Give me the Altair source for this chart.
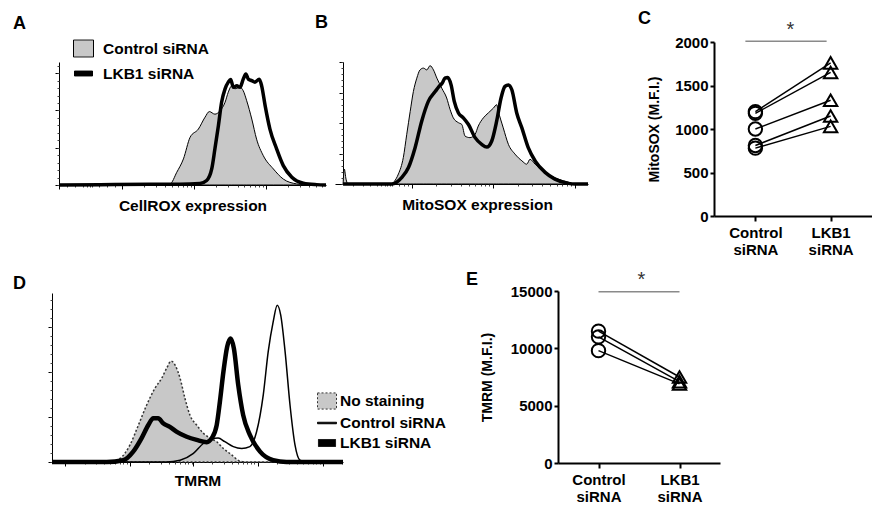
import math
import altair as alt
import pandas as pd

FONT = "Liberation Sans"
GRAY = "#c8c8c8"

# ---------------- Panel A : CellROX histogram (channel 0-1000, count) ----------------
a_ctrl_x = [0, 330, 378, 416, 441, 466, 491, 522, 547, 563, 584, 603, 622, 634, 647, 659, 678, 690, 703, 722, 740, 765, 803, 840, 890, 940, 1000]
a_ctrl_y = [0, 0, 1, 3, 34, 70, 128, 150, 182, 197, 190, 199, 222, 249, 266, 258, 262, 253, 226, 177, 123, 79, 43, 16, 3, 0, 0]
a_lkb_x = [0, 154, 341, 453, 528, 553, 572, 584, 597, 609, 622, 634, 643, 653, 666, 678, 690, 700, 709, 722, 734, 750, 759, 772, 790, 815, 840, 872, 915, 965, 1000]
a_lkb_y = [0, 1, 2, 2, 4, 12, 43, 97, 159, 222, 258, 276, 283, 262, 266, 262, 284, 298, 284, 280, 276, 284, 266, 213, 150, 97, 52, 21, 5, 1, 0]

# ---------------- Panel B : MitoSOX histogram ----------------
b_ctrl_x = [0, 5, 12, 20, 192, 226, 246, 260, 274, 287, 301, 314, 328, 342, 355, 369, 383, 403, 423, 437, 450, 471, 485, 498,
            518, 539, 552, 573, 593, 614, 627, 634, 654, 675, 702, 730, 750, 763, 784, 825, 879, 920, 947, 1000]
b_ctrl_y = [0, 49, 16, 0, 0, 33, 87, 163, 238, 303, 347, 374, 380, 374, 388, 374, 347, 314, 282, 244, 217, 201, 195, 157,
            152, 163, 190, 217, 233, 249, 260, 238, 184, 130, 98, 76, 65, 81, 65, 38, 16, 6, 0, 0]
b_lkb_x = [0, 199, 240, 267, 294, 321, 348, 376, 392, 405, 416, 427, 441, 454, 471, 491, 512, 539, 566, 587,
           607, 627, 645, 661, 675, 689, 709, 730, 756, 784, 825, 865, 920, 947, 1000]
b_lkb_y = [0, 0, 22, 54, 119, 206, 271, 303, 320, 331, 347, 349, 325, 271, 233, 217, 195, 152, 130, 121,
           141, 206, 282, 320, 325, 309, 233, 184, 119, 76, 38, 16, 2, 0, 0]

# ---------------- Panel C : MitoSOX MFI, paired ----------------
groups = ["Control siRNA", "LKB1 siRNA"]
c_ctrl = [1200, 1180, 1000, 810, 780]
c_lkb1 = [1760, 1650, 1330, 1150, 1030]

# ---------------- Panel D : TMRM histogram ----------------
d_ns_x = [0, 199, 234, 268, 297, 325, 354, 377, 394, 409, 423, 440, 457, 474, 497, 520, 543, 566, 589, 617, 646, 669, 1000]
d_ns_y = [0, 0, 8, 38, 82, 126, 164, 186, 208, 224, 215, 186, 141, 104, 82, 64, 53, 45, 30, 16, 2, 0, 0]
d_ctrl_x = [0, 394, 440, 486, 520, 549, 571, 594, 623, 652, 680, 703, 726, 743, 760, 774, 786, 801, 818, 835, 852, 875, 1000]
d_ctrl_y = [0, 0, 4, 19, 41, 51, 53, 45, 34, 30, 34, 67, 149, 245, 311, 348, 326, 245, 126, 38, 4, 0, 0]
d_lkb_x = [0, 188, 245, 279, 308, 331, 348, 365, 382, 405, 429, 463, 497, 532, 549, 566, 577, 589, 602, 614,
           625, 640, 657, 680, 715, 760, 806, 1000]
d_lkb_y = [0, 0, 4, 23, 53, 82, 97, 97, 86, 78, 67, 56, 49, 44, 53, 82, 134, 200, 256, 274,
           252, 171, 104, 60, 23, 4, 0, 0]

# ---------------- Panel E : TMRM MFI, paired ----------------
e_ctrl = [11500, 11000, 9800]
e_lkb1 = [7500, 7100, 6900]

# axis tick positions (log decades of the cytometer scale)
a_x_major = [0, 236, 506, 775]
b_x_major = [280, 613, 947]
d_x_major = [45, 268, 484, 708, 931]


def log_minor(starts, width, lo, hi, extra=()):
    out = list(extra)
    for s in starts:
        for k in range(2, 10):
            v = s + width * math.log10(k)
            if lo <= v <= hi:
                out.append(round(v, 1))
    return out


a_x_minor = log_minor(a_x_major[1:], 270, 0, 1000, extra=[30, 60, 90, 105, 115, 125, 150, 180, 210])
b_x_minor = log_minor(b_x_major, 333, -33, 1000, extra=[40, 80, 110, 140, 155, 170, 180, 190, 200, 230, 250, 265])
d_x_minor = log_minor(d_x_major, 222, 0, 1000)

SQ_PATH = "M-1,-0.85H1V0.85H-1Z"
BAR_PATH = "M-0.9,-0.25H0.9V0.25H-0.9Z"
THIN_PATH = "M-1,-0.08H1V0.08H-1Z"
THICK_PATH = "M-0.9,-0.37H0.9V0.37H-0.9Z"

IND = dict(fill="independent", stroke="independent", shape="independent", strokeDash="independent")


def title(letter, dx, dy):
    return alt.TitleParams(text=letter, anchor="start", orient="top", frame="group", font=FONT,
                           fontSize=18, fontWeight="bold", color="black", dx=dx, dy=dy,
                           offset=0, baseline="alphabetic")


def legend_chart(names, fills, strokes, shapes, dashes, lx, ly, size, rowpad, loff):
    leg = alt.Legend(orient="none", legendX=lx, legendY=ly, title=None, symbolSize=size,
                     symbolStrokeWidth=1, labelFont=FONT, labelFontSize=15.5, labelFontWeight="bold",
                     labelColor="black", rowPadding=rowpad, labelOffset=loff, padding=0)
    df = pd.DataFrame({"s": names})
    return alt.Chart(df).transform_filter("false").mark_point(filled=True, opacity=1).encode(
        fill=alt.Fill("s:N", scale=alt.Scale(domain=names, range=fills), legend=leg),
        stroke=alt.Stroke("s:N", scale=alt.Scale(domain=names, range=strokes), legend=leg),
        shape=alt.Shape("s:N", scale=alt.Scale(domain=names, range=shapes), legend=leg),
        strokeDash=alt.StrokeDash("s:N", scale=alt.Scale(domain=names, range=dashes), legend=leg),
    )


def hist_panel(curves, xdom, xrange, ydom, yrange, width, height, xmaj, xmin, ymaj, ymin,
               xtitle, ttl, yoff, legend, tpad=9, title_x=None):
    xscale = alt.Scale(domain=xdom, range=xrange, nice=False, zero=False)
    yscale = alt.Scale(domain=ydom, range=yrange, nice=False, zero=False)
    extra = {}
    if title_x is not None:
        extra["titleX"] = title_x
    ax_major = alt.Axis(values=xmaj, labels=False, tickSize=4, tickColor="black", domainColor="black",
                        title=xtitle, titleFont=FONT, titleFontSize=15.5, titleFontWeight="bold",
                        titleColor="black", titlePadding=tpad, grid=False, orient="bottom", **extra)
    ax_minor = alt.Axis(values=xmin, labels=False, tickSize=2, tickColor="#444", domain=False,
                        title=None, grid=False, orient="bottom")
    ay_major = alt.Axis(values=ymaj, labels=False, tickSize=4, tickColor="black", domainColor="black",
                        title=None, grid=False, orient="left", offset=yoff)
    ay_minor = alt.Axis(values=ymin, labels=False, tickSize=2, tickColor="#444", domain=False,
                        title=None, grid=False, orient="left", offset=yoff)
    layers = []
    for i, (xv, yv, kind, style) in enumerate(curves):
        df = pd.DataFrame({"x": xv, "y": yv})
        if i == 0:
            axx, axy = ax_major, ay_major
        elif i == 1:
            axx, axy = ax_minor, ay_minor
        else:
            axx, axy = None, None
        if kind == "area":
            m = alt.Chart(df).mark_area(interpolate="monotone", **style)
        else:
            m = alt.Chart(df).mark_line(interpolate="monotone", **style)
        layers.append(m.encode(x=alt.X("x:Q", scale=xscale, axis=axx),
                               y=alt.Y("y:Q", scale=yscale, axis=axy)))
    if legend is not None:
        layers.append(legend)
    return alt.layer(*layers).resolve_axis(x="independent", y="independent").properties(
        width=width, height=height, title=ttl)


def paired_panel(ctrl, lkb1, ymax, yvals, ytitle, width, height, pad, bar_v, star_v, bar_off,
                 star_dx, ttl, tpad):
    rows = []
    for i, (a, b) in enumerate(zip(ctrl, lkb1)):
        rows.append({"pair": i, "g": groups[0], "v": a})
        rows.append({"pair": i, "g": groups[1], "v": b})
    df = pd.DataFrame(rows)
    xsc = alt.Scale(type="point", domain=groups, padding=pad)
    ysc = alt.Scale(domain=[0, ymax], nice=False)
    xax = alt.Axis(title=None, labelExpr="split(datum.label, ' ')", labelFont=FONT, labelFontSize=15,
                   labelFontWeight="bold", labelColor="black", labelAngle=0, tickSize=5, tickWidth=2,
                   tickColor="black", domainWidth=2, domainColor="black", labelPadding=4,
                   labelLineHeight=17, grid=False)
    yax = alt.Axis(values=yvals, format="d", title=ytitle, titlePadding=tpad, labelFont=FONT,
                   labelFontSize=15, labelFontWeight="bold", labelColor="black", tickSize=4, tickWidth=2,
                   tickColor="black", domainWidth=2, domainColor="black", labelPadding=2, grid=False)
    X = alt.X("g:N", scale=xsc, axis=xax)
    Y = alt.Y("v:Q", scale=ysc, axis=yax)
    lines = alt.Chart(df).mark_line(color="black", strokeWidth=1.5).encode(x=X, y=Y, detail="pair:N")
    pts = alt.Chart(df).mark_point(filled=False, color="black", strokeWidth=2, size=180, opacity=1).encode(
        x=X, y=Y,
        shape=alt.Shape("g:N", scale=alt.Scale(domain=groups, range=["circle", "triangle-up"]), legend=None))
    bar_df = pd.DataFrame({"g": [groups[0]], "g2": [groups[1]], "v": [bar_v]})
    star_df = pd.DataFrame({"g": [groups[0]], "v": [star_v]})
    bar = alt.Chart(bar_df).mark_rule(color="#8a8a8a", strokeWidth=1.5, xOffset=bar_off[0],
                                      x2Offset=bar_off[1]).encode(x=X, x2="g2:N", y=Y)
    star = alt.Chart(star_df).mark_text(text="*", font=FONT, fontSize=20, color="#333", dx=star_dx,
                                        baseline="alphabetic").encode(x=X, y=Y)
    return alt.layer(lines, pts, bar, star).properties(width=width, height=height, title=ttl)


# ---------------- build panels ----------------
a_leg = legend_chart(["Control siRNA", "LKB1 siRNA"], [GRAY, "black"], ["black", "black"],
                     [SQ_PATH, BAR_PATH], [[1, 0], [1, 0]], 21, -4, 400, 4, 9)
A = hist_panel(
    [(a_ctrl_x, a_ctrl_y, "area", dict(fill=GRAY, stroke="black", strokeWidth=1)),
     (a_lkb_x, a_lkb_y, "line", dict(color="black", strokeWidth=3.5))],
    [0, 1000], [7, 274], [0, 330], [143, 20], 274, 143,
    a_x_major, a_x_minor, [0, 100, 200, 300], list(range(0, 331, 20)),
    "CellROX expression", title("A", -39, 9), -7, a_leg)

B = hist_panel(
    [(b_ctrl_x, b_ctrl_y, "area", dict(fill=GRAY, stroke="black", strokeWidth=1)),
     (b_lkb_x, b_lkb_y, "line", dict(color="black", strokeWidth=3.5))],
    [-33, 1000], [0, 253], [0, 400], [142, 20], 370, 142,
    b_x_major, b_x_minor, [0, 100, 200, 300, 400], list(range(0, 401, 20)),
    "MitoSOX expression", title("B", -20, 4), -8, None, title_x=142)

C = paired_panel(c_ctrl, c_lkb1, 2000, [0, 500, 1000, 1500, 2000], "MitoSOX (M.F.I.)", 158, 174, 0.55,
                 2010, 2070, (-10, -4), 35, title("C", -76, 22), 13)

d_leg = legend_chart(["No staining", "Control siRNA", "LKB1 siRNA"], [GRAY, "black", "black"],
                     ["#333", "black", "black"], [SQ_PATH, THIN_PATH, THICK_PATH],
                     [[2, 2], [1, 0], [1, 0]], 265, 100, 361, 1, 3)
D = hist_panel(
    [(d_ns_x, d_ns_y, "area", dict(fill=GRAY, stroke="#333", strokeWidth=1.5, strokeDash=[2, 2])),
     (d_ctrl_x, d_ctrl_y, "line", dict(color="black", strokeWidth=1.5)),
     (d_lkb_x, d_lkb_y, "line", dict(color="black", strokeWidth=4.5))],
    [0, 1000], [0, 291], [0, 375], [171, 2], 291, 171,
    d_x_major, d_x_minor, [0, 100, 200, 300], list(range(0, 371, 20)),
    "TMRM", title("D", -39, 16), 0, d_leg, tpad=7)

E = paired_panel(e_ctrl, e_lkb1, 15000, [0, 5000, 10000, 15000], "TMRM (M.F.I.)", 162, 172, 0.5,
                 14940, 15400, (0, 0), 43, title("E", -92, 33), 16)

row1 = alt.hconcat(A, B, C, spacing=9, bounds="flush").resolve_scale(**IND)
row2 = alt.hconcat(D, E, spacing=215, bounds="flush").resolve_scale(**IND)
chart = (
    alt.vconcat(row1, row2, spacing=13)
    .resolve_scale(**IND)
    .properties(padding={"left": 5, "top": 1, "right": 0, "bottom": 0}, background="white")
    .configure_view(strokeWidth=0)
    .configure_axisY(titleFont=FONT, titleFontSize=14, titleFontWeight="bold", titleColor="black")
)

chart.save("out.html", embed_options={"renderer": "svg", "actions": False})
